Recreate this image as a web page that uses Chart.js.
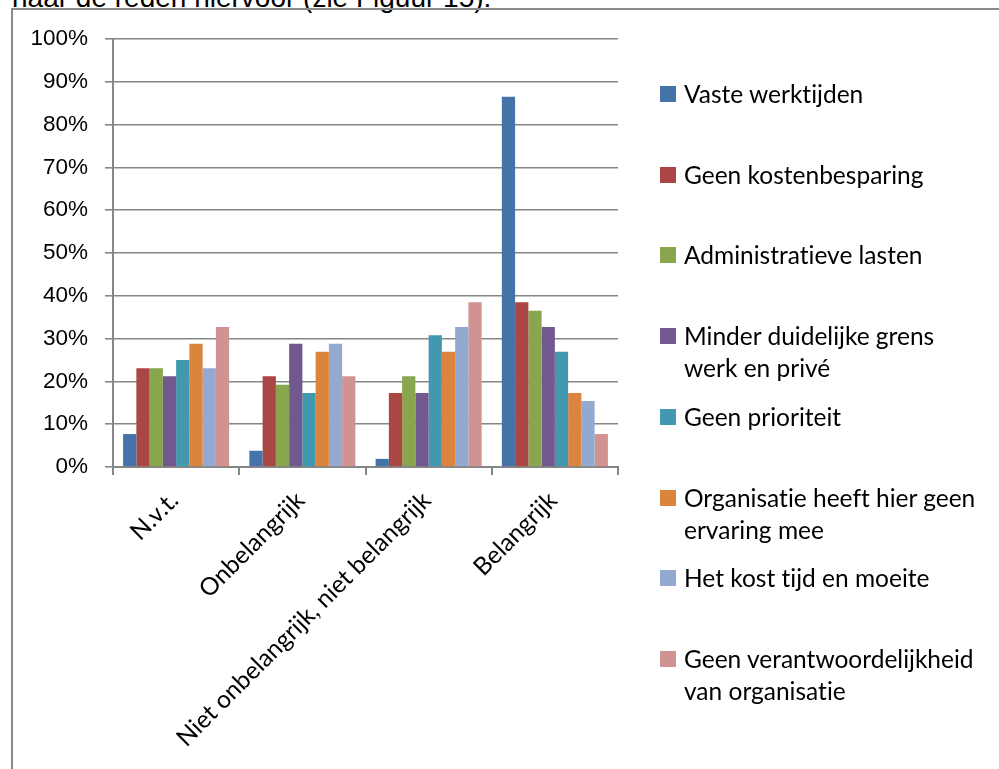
<!DOCTYPE html>
<html>
<head>
<meta charset="utf-8">
<script src="https://cdn.jsdelivr.net/npm/chart.js@4"></script>
<style>
  html, body { margin: 0; padding: 0; background: #fff; }
  #page { position: relative; width: 999px; height: 769px; overflow: hidden; }
  #intro {
    position: absolute; left: 12px; top: -16px;
    font: 28px "Liberation Sans", Arial, sans-serif; line-height: 27px;
    color: #000; white-space: nowrap;
  }
  #frame {
    position: absolute; left: 11px; top: 8px; width: 1000px; height: 800px;
    border-left: 2px solid #8a8a8a; border-top: 2px solid #8a8a8a;
  }
  #chart { position: absolute; left: 0; top: 0; }
  .item { position: absolute; left: 660px; }
  .item .box { position: absolute; left: 0; top: 0; width: 16px; height: 16px; }
  .item .txt {
    position: absolute; left: 24px; top: -8px; white-space: pre;
    font: 24.5px Lato, sans-serif; line-height: 32px; color: #000;
    font-variant-ligatures: none;
  }
</style>
</head>
<body>
<div id="page">
  <div id="intro">naar de reden hiervoor (zie Figuur 15).</div>
  <div id="frame"></div>
  <canvas id="chart" width="999" height="769"></canvas>
  <div id="legend"></div>
</div>
<script>
const categories = [
  "N.v.t.",
  "Onbelangrijk",
  "Niet onbelangrijk, niet belangrijk",
  "Belangrijk",
];

const seriesNames = [
  "Vaste werktijden",
  "Geen kostenbesparing",
  "Administratieve lasten",
  "Minder duidelijke grens\nwerk en privé",
  "Geen prioriteit",
  "Organisatie heeft hier geen\nervaring mee",
  "Het kost tijd en moeite",
  "Geen verantwoordelijkheid\nvan organisatie",
];

const seriesColors = [
  "#4572a7", "#aa4643", "#89a54e", "#71588f",
  "#4198af", "#db843d", "#93a9cf", "#d19392",
];

// percentages per category: N.v.t., Onbelangrijk, Niet onb./niet bel., Belangrijk
const vasteWerktijden = [7.7, 3.8, 1.9, 86.5];
const geenKostenbesparing = [23.1, 21.2, 17.3, 38.5];
const administratieveLasten = [23.1, 19.2, 21.2, 36.5];
const minderDuidelijkeGrens = [21.2, 28.8, 17.3, 32.7];
const geenPrioriteit = [25.0, 17.3, 30.8, 26.9];
const geenErvaring = [28.8, 26.9, 26.9, 17.3];
const tijdEnMoeite = [23.1, 28.8, 32.7, 15.4];
const geenVerantwoordelijkheid = [32.7, 21.2, 38.5, 7.7];

const seriesValues = [
  vasteWerktijden, geenKostenbesparing, administratieveLasten, minderDuidelijkeGrens,
  geenPrioriteit, geenErvaring, tijdEnMoeite, geenVerantwoordelijkheid,
];

const yTicks = [0, 10, 20, 30, 40, 50, 60, 70, 80, 90, 100];

const axisGrey = "#868686";

new Chart(document.getElementById("chart"), {
  type: "bar",
  data: {
    labels: categories,
    datasets: seriesValues.map((vals, i) => ({
      label: seriesNames[i].replace("\n", " "),
      data: vals,
      backgroundColor: seriesColors[i],
      borderWidth: 0,
      categoryPercentage: 0.84,
      barPercentage: 1.0,
    })),
  },
  options: {
    responsive: false,
    animation: false,
    layout: { padding: { left: 0, top: 39, right: 381, bottom: 0 } },
    plugins: {
      legend: { display: false },
      tooltip: { enabled: false },
    },
    scales: {
      y: {
        min: 0,
        max: 100,
        afterFit: (scale) => { scale.width = 113; },
        afterBuildTicks: (scale) => { scale.ticks = yTicks.map((v) => ({ value: v })); },
        ticks: {
          color: "#000",
          padding: 17,
          font: { family: "'Liberation Sans', Arial, sans-serif", size: 22.5 },
          callback: (v) => v + "%",
        },
        grid: { color: axisGrey, lineWidth: 1.6, tickLength: 8 },
        border: { color: axisGrey, width: 2 },
      },
      x: {
        afterFit: (scale) => { scale.height = 302; },
        ticks: {
          color: "#000",
          autoSkip: false,
          minRotation: 45,
          maxRotation: 45,
          padding: 11,
          labelOffset: -2,
          font: { family: "Lato, sans-serif", size: 24.5 },
        },
        grid: {
          offset: true,
          drawOnChartArea: false,
          color: axisGrey,
          lineWidth: 2,
          tickLength: 8,
        },
        border: { color: axisGrey, width: 2 },
      },
    },
  },
});

// legend at the right, one entry per series
const legend = document.getElementById("legend");
seriesNames.forEach((name, i) => {
  const item = document.createElement("div");
  item.className = "item";
  item.style.top = (86 + i * 80.7) + "px";
  const box = document.createElement("div");
  box.className = "box";
  box.style.background = seriesColors[i];
  const txt = document.createElement("div");
  txt.className = "txt";
  txt.textContent = name;
  item.appendChild(box);
  item.appendChild(txt);
  legend.appendChild(item);
});
</script>
</body>
</html>
